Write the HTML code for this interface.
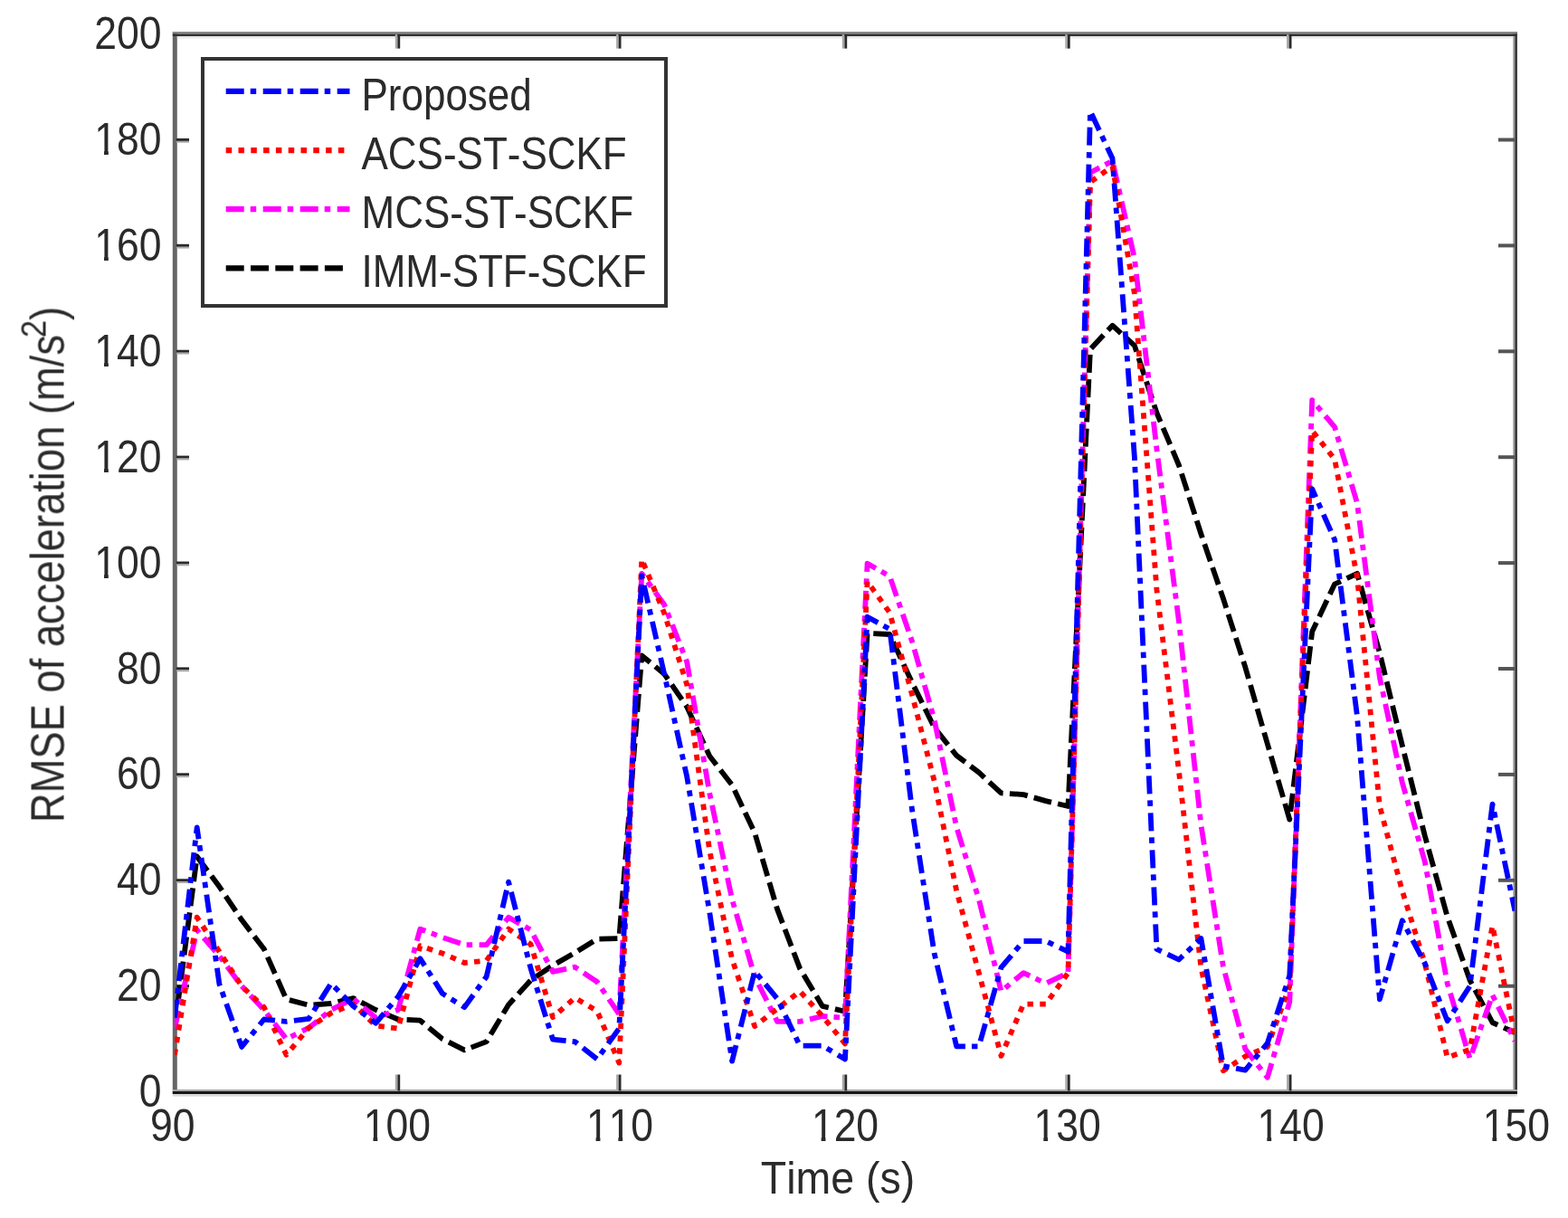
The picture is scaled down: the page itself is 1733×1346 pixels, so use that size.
<!DOCTYPE html>
<html><head><meta charset="utf-8"><title>RMSE of acceleration</title>
<style>html,body{margin:0;padding:0;background:#fff;} svg{display:block;}
text{font-family:"Liberation Sans", sans-serif; fill:#2a2a2a; font-kerning:none;}</style></head>
<body><svg width="1733" height="1346" viewBox="0 0 1733 1346">
<defs><clipPath id="clip"><rect x="193" y="38" width="1481" height="1168"/></clipPath>
<filter id="soft" x="0" y="0" width="1733" height="1346" filterUnits="userSpaceOnUse"><feGaussianBlur stdDeviation="0.7"/></filter></defs>
<rect width="1733" height="1346" fill="#fff"/>
<g filter="url(#soft)">
<rect x="190.8" y="35" width="5" height="1174" fill="#666"/>
<rect x="1672.3" y="35" width="2.2" height="1174" fill="#999"/>
<rect x="1674.3" y="35" width="2.6" height="1174" fill="#333"/>
<rect x="190.8" y="35" width="1486" height="2.5" fill="#888"/>
<rect x="190.8" y="37.4" width="1486" height="2.6" fill="#333"/>
<rect x="195.8" y="40" width="1476" height="2.5" fill="#e8e8e8"/>
<rect x="190.8" y="1204" width="1486" height="2" fill="#a5a5a5"/>
<rect x="190.8" y="1206" width="1486" height="3" fill="#161616"/>
<rect x="190.8" y="1209" width="1486" height="2.6" fill="#d8d8d8"/>
<rect x="436.8" y="1187.5" width="2.6" height="18" fill="#a8a8a8"/>
<rect x="439.4" y="1187.5" width="2.8" height="18" fill="#2a2a2a"/>
<rect x="436.8" y="38" width="2.6" height="15.6" fill="#a8a8a8"/>
<rect x="439.4" y="38" width="2.8" height="15.6" fill="#2a2a2a"/>
<rect x="681.1" y="1187.5" width="2.6" height="18" fill="#a8a8a8"/>
<rect x="683.7" y="1187.5" width="2.8" height="18" fill="#2a2a2a"/>
<rect x="681.1" y="38" width="2.6" height="15.6" fill="#a8a8a8"/>
<rect x="683.7" y="38" width="2.8" height="15.6" fill="#2a2a2a"/>
<rect x="930.8" y="1187.5" width="2.6" height="18" fill="#a8a8a8"/>
<rect x="933.4" y="1187.5" width="2.8" height="18" fill="#2a2a2a"/>
<rect x="930.8" y="38" width="2.6" height="15.6" fill="#a8a8a8"/>
<rect x="933.4" y="38" width="2.8" height="15.6" fill="#2a2a2a"/>
<rect x="1177.3" y="1187.5" width="2.6" height="18" fill="#a8a8a8"/>
<rect x="1179.9" y="1187.5" width="2.8" height="18" fill="#2a2a2a"/>
<rect x="1177.3" y="38" width="2.6" height="15.6" fill="#a8a8a8"/>
<rect x="1179.9" y="38" width="2.8" height="15.6" fill="#2a2a2a"/>
<rect x="1422.1" y="1187.5" width="2.6" height="18" fill="#a8a8a8"/>
<rect x="1424.7" y="1187.5" width="2.8" height="18" fill="#2a2a2a"/>
<rect x="1422.1" y="38" width="2.6" height="15.6" fill="#a8a8a8"/>
<rect x="1424.7" y="38" width="2.8" height="15.6" fill="#2a2a2a"/>
<rect x="195" y="1088.1" width="14" height="3" fill="#2a2a2a"/>
<rect x="195" y="1091.1" width="14" height="1.8" fill="#a8a8a8"/>
<rect x="1656" y="1087.7" width="18" height="4" fill="#555"/>
<rect x="195" y="971.2" width="14" height="3" fill="#2a2a2a"/>
<rect x="195" y="974.2" width="14" height="1.8" fill="#a8a8a8"/>
<rect x="1656" y="970.8" width="18" height="4" fill="#555"/>
<rect x="195" y="854.3" width="14" height="3" fill="#2a2a2a"/>
<rect x="195" y="857.3" width="14" height="1.8" fill="#a8a8a8"/>
<rect x="1656" y="853.9" width="18" height="4" fill="#555"/>
<rect x="195" y="737.4" width="14" height="3" fill="#2a2a2a"/>
<rect x="195" y="740.4" width="14" height="1.8" fill="#a8a8a8"/>
<rect x="1656" y="737.0" width="18" height="4" fill="#555"/>
<rect x="195" y="620.5" width="14" height="3" fill="#2a2a2a"/>
<rect x="195" y="623.5" width="14" height="1.8" fill="#a8a8a8"/>
<rect x="1656" y="620.1" width="18" height="4" fill="#555"/>
<rect x="195" y="503.6" width="14" height="3" fill="#2a2a2a"/>
<rect x="195" y="506.6" width="14" height="1.8" fill="#a8a8a8"/>
<rect x="1656" y="503.2" width="18" height="4" fill="#555"/>
<rect x="195" y="386.7" width="14" height="3" fill="#2a2a2a"/>
<rect x="195" y="389.7" width="14" height="1.8" fill="#a8a8a8"/>
<rect x="1656" y="386.3" width="18" height="4" fill="#555"/>
<rect x="195" y="269.8" width="14" height="3" fill="#2a2a2a"/>
<rect x="195" y="272.8" width="14" height="1.8" fill="#a8a8a8"/>
<rect x="1656" y="269.4" width="18" height="4" fill="#555"/>
<rect x="195" y="152.9" width="14" height="3" fill="#2a2a2a"/>
<rect x="195" y="155.9" width="14" height="1.8" fill="#a8a8a8"/>
<rect x="1656" y="152.5" width="18" height="4" fill="#555"/>
<text transform="translate(178.5,1223.1) scale(0.89,1)" text-anchor="end" font-size="50" >0</text>
<text transform="translate(178.5,1106.2) scale(0.89,1)" text-anchor="end" font-size="50" >20</text>
<text transform="translate(178.5,989.3) scale(0.89,1)" text-anchor="end" font-size="50" >40</text>
<text transform="translate(178.5,872.4) scale(0.89,1)" text-anchor="end" font-size="50" >60</text>
<text transform="translate(178.5,755.5) scale(0.89,1)" text-anchor="end" font-size="50" >80</text>
<text transform="translate(178.5,638.6) scale(0.89,1)" text-anchor="end" font-size="50" >100</text>
<text transform="translate(178.5,521.7) scale(0.89,1)" text-anchor="end" font-size="50" >120</text>
<text transform="translate(178.5,404.8) scale(0.89,1)" text-anchor="end" font-size="50" >140</text>
<text transform="translate(178.5,287.9) scale(0.89,1)" text-anchor="end" font-size="50" >160</text>
<text transform="translate(178.5,171.0) scale(0.89,1)" text-anchor="end" font-size="50" >180</text>
<text transform="translate(178.5,54.1) scale(0.89,1)" text-anchor="end" font-size="50" >200</text>
<text transform="translate(190.8,1261) scale(0.89,1)" text-anchor="middle" font-size="50" >90</text>
<text transform="translate(438.8,1261) scale(0.89,1)" text-anchor="middle" font-size="50" >100</text>
<text transform="translate(685.0,1261) scale(0.89,1)" text-anchor="middle" font-size="50" >110</text>
<text transform="translate(934.0,1261) scale(0.89,1)" text-anchor="middle" font-size="50" >120</text>
<text transform="translate(1179.7,1261) scale(0.89,1)" text-anchor="middle" font-size="50" >130</text>
<text transform="translate(1426.7,1261) scale(0.89,1)" text-anchor="middle" font-size="50" >140</text>
<text transform="translate(1675.8,1261) scale(0.89,1)" text-anchor="middle" font-size="50" >150</text>
<rect x="106.31" y="633.99" width="8.68" height="6.31" fill="#fff"/>
<rect x="119.83" y="633.99" width="8.78" height="6.31" fill="#fff"/>
<rect x="106.31" y="517.09" width="8.68" height="6.31" fill="#fff"/>
<rect x="119.83" y="517.09" width="8.78" height="6.31" fill="#fff"/>
<rect x="106.31" y="400.19" width="8.68" height="6.31" fill="#fff"/>
<rect x="119.83" y="400.19" width="8.78" height="6.31" fill="#fff"/>
<rect x="106.31" y="283.29" width="8.68" height="6.31" fill="#fff"/>
<rect x="119.83" y="283.29" width="8.78" height="6.31" fill="#fff"/>
<rect x="106.31" y="166.39" width="8.68" height="6.31" fill="#fff"/>
<rect x="119.83" y="166.39" width="8.78" height="6.31" fill="#fff"/>
<rect x="403.77" y="1256.39" width="8.68" height="6.31" fill="#fff"/>
<rect x="417.28" y="1256.39" width="8.78" height="6.31" fill="#fff"/>
<rect x="649.92" y="1256.39" width="8.68" height="6.31" fill="#fff"/>
<rect x="663.43" y="1256.39" width="8.78" height="6.31" fill="#fff"/>
<rect x="674.66" y="1256.39" width="8.68" height="6.31" fill="#fff"/>
<rect x="688.18" y="1256.39" width="8.78" height="6.31" fill="#fff"/>
<rect x="898.97" y="1256.39" width="8.68" height="6.31" fill="#fff"/>
<rect x="912.48" y="1256.39" width="8.78" height="6.31" fill="#fff"/>
<rect x="1144.62" y="1256.39" width="8.68" height="6.31" fill="#fff"/>
<rect x="1158.13" y="1256.39" width="8.78" height="6.31" fill="#fff"/>
<rect x="1391.67" y="1256.39" width="8.68" height="6.31" fill="#fff"/>
<rect x="1405.18" y="1256.39" width="8.78" height="6.31" fill="#fff"/>
<rect x="1640.72" y="1256.39" width="8.68" height="6.31" fill="#fff"/>
<rect x="1654.23" y="1256.39" width="8.78" height="6.31" fill="#fff"/>
<g fill="none" stroke-width="5.8" stroke-linejoin="round" clip-path="url(#clip)">
<path d="M193.0,1136.5 L217.7,946.5 L242.4,979.8 L267.1,1016.6 L291.8,1048.8 L316.5,1104.3 L341.2,1110.7 L365.9,1109.0 L390.6,1103.1 L415.3,1116.0 L440.0,1126.5 L464.4,1127.7 L488.9,1148.1 L513.3,1160.4 L537.7,1151.1 L562.1,1110.2 L586.6,1083.3 L611.0,1066.9 L635.4,1052.9 L659.9,1037.7 L684.3,1037.1 L709.3,724.4 L734.2,744.8 L759.2,781.1 L784.2,835.4 L809.1,867.6 L834.1,920.2 L859.1,1004.9 L884.1,1070.4 L909.0,1111.9 L934.0,1117.8 L958.6,699.8 L983.3,701.0 L1008.0,754.2 L1032.6,803.9 L1057.2,834.9 L1081.9,853.6 L1106.5,876.4 L1131.2,878.1 L1155.8,885.1 L1180.5,891.0 L1205.0,386.0 L1229.5,359.7 L1253.9,381.9 L1278.4,456.1 L1302.9,514.0 L1327.4,590.0 L1351.9,661.3 L1376.3,737.2 L1400.8,822.0 L1425.3,905.6 L1450.2,698.1 L1475.1,645.5 L1500.0,633.8 L1524.9,721.5 L1549.8,823.8 L1574.8,923.7 L1599.7,1013.1 L1624.6,1083.3 L1649.5,1130.0 L1674.4,1141.1" stroke="#000" stroke-dasharray="20 7.3"/>
<path d="M193.0,1136.5 L217.7,1027.7 L242.4,1056.4 L267.1,1089.7 L291.8,1116.0 L316.5,1148.1 L341.2,1135.9 L365.9,1116.0 L390.6,1103.7 L415.3,1124.8 L440.0,1116.0 L464.4,1026.6 L488.9,1035.9 L513.3,1044.1 L537.7,1044.1 L562.1,1013.7 L586.6,1027.7 L611.0,1073.9 L635.4,1068.7 L659.9,1085.0 L684.3,1120.7 L709.3,633.8 L734.2,668.3 L759.2,731.4 L784.2,876.4 L809.1,993.8 L834.1,1079.2 L859.1,1128.9 L884.1,1128.9 L909.0,1123.0 L934.0,1124.8 L958.6,622.7 L983.3,636.7 L1008.0,708.6 L1032.6,795.1 L1057.2,914.3 L1081.9,993.8 L1106.5,1095.5 L1131.2,1075.1 L1155.8,1086.8 L1180.5,1075.1 L1205.0,190.7 L1229.5,177.9 L1253.9,285.4 L1278.4,495.8 L1302.9,686.4 L1327.4,911.4 L1351.9,1068.1 L1376.3,1159.3 L1400.8,1190.8 L1425.3,1107.2 L1450.2,442.1 L1475.1,471.9 L1500.0,556.1 L1524.9,748.9 L1549.8,864.7 L1574.8,952.3 L1599.7,1086.8 L1624.6,1169.8 L1649.5,1099.6 L1674.4,1150.5" stroke="#f0f" stroke-dasharray="20 7 6.5 7.5"/>
<path d="M193.0,1165.7 L217.7,1013.7 L242.4,1051.7 L267.1,1089.7 L291.8,1113.1 L316.5,1165.7 L341.2,1135.9 L365.9,1119.5 L390.6,1109.6 L415.3,1133.5 L440.0,1136.5 L464.4,1045.3 L488.9,1053.5 L513.3,1064.0 L537.7,1061.6 L562.1,1026.6 L586.6,1043.5 L611.0,1124.2 L635.4,1102.6 L659.9,1117.2 L684.3,1174.5 L709.3,618.0 L734.2,677.6 L759.2,756.5 L784.2,940.1 L809.1,1059.9 L834.1,1134.1 L859.1,1114.8 L884.1,1095.5 L909.0,1123.0 L934.0,1153.4 L958.6,642.6 L983.3,677.0 L1008.0,767.6 L1032.6,862.9 L1057.2,984.5 L1081.9,1075.1 L1106.5,1166.9 L1131.2,1109.6 L1155.8,1109.6 L1180.5,1075.1 L1205.0,201.3 L1229.5,183.7 L1253.9,324.6 L1278.4,651.3 L1302.9,851.8 L1327.4,1069.2 L1351.9,1183.2 L1376.3,1167.4 L1400.8,1156.9 L1425.3,1089.7 L1450.2,476.0 L1475.1,507.5 L1500.0,637.9 L1524.9,891.0 L1549.8,984.5 L1574.8,1064.6 L1599.7,1168.6 L1624.6,1159.8 L1649.5,1023.1 L1674.4,1144.1" stroke="#f00" stroke-dasharray="6.5 7.3"/>
<path d="M193.0,1124.8 L217.7,914.3 L242.4,1087.4 L267.1,1156.9 L291.8,1126.5 L316.5,1128.9 L341.2,1125.9 L365.9,1086.8 L390.6,1111.9 L415.3,1130.6 L440.0,1101.4 L464.4,1059.3 L488.9,1097.9 L513.3,1113.1 L537.7,1079.2 L562.1,974.6 L586.6,1070.4 L611.0,1148.7 L635.4,1151.1 L659.9,1170.4 L684.3,1136.5 L709.3,636.1 L734.2,744.8 L759.2,858.2 L784.2,1007.9 L809.1,1172.7 L834.1,1073.3 L859.1,1103.7 L884.1,1155.7 L909.0,1155.7 L934.0,1170.4 L958.6,681.7 L983.3,695.2 L1008.0,894.5 L1032.6,1053.5 L1057.2,1156.3 L1081.9,1156.3 L1106.5,1069.2 L1131.2,1040.0 L1155.8,1040.0 L1180.5,1051.7 L1205.0,122.9 L1229.5,175.0 L1253.9,505.2 L1278.4,1048.8 L1302.9,1060.5 L1327.4,1037.1 L1351.9,1178.0 L1376.3,1182.6 L1400.8,1152.8 L1425.3,1078.0 L1450.2,540.3 L1475.1,596.4 L1500.0,791.6 L1524.9,1104.3 L1549.8,1017.2 L1574.8,1064.6 L1599.7,1128.3 L1624.6,1089.7 L1649.5,888.6 L1674.4,1006.7" stroke="#00f" stroke-dasharray="20 7 6.5 7.5"/>
</g>
<rect x="224" y="65" width="512" height="273" fill="#fff" stroke="#333" stroke-width="4"/>
<line x1="249.7" y1="100.9" x2="386.5" y2="100.9" stroke="#00f" stroke-width="6.2" stroke-dasharray="20 7 6.5 7.5"/>
<text transform="translate(399.5,121.9) scale(0.88,1)" text-anchor="start" font-size="50" >Proposed</text>
<line x1="249.7" y1="166.2" x2="380.5" y2="166.2" stroke="#f00" stroke-width="6.2" stroke-dasharray="6.5 7.3"/>
<text transform="translate(399.5,187.2) scale(0.88,1)" text-anchor="start" font-size="50" >ACS-ST-SCKF</text>
<line x1="249.7" y1="231.2" x2="386.5" y2="231.2" stroke="#f0f" stroke-width="6.2" stroke-dasharray="20 7 6.5 7.5"/>
<text transform="translate(399.5,252.2) scale(0.88,1)" text-anchor="start" font-size="50" >MCS-ST-SCKF</text>
<line x1="249.7" y1="296.3" x2="380.5" y2="296.3" stroke="#000" stroke-width="6.2" stroke-dasharray="20 7.3"/>
<text transform="translate(399.5,317.3) scale(0.88,1)" text-anchor="start" font-size="50" >IMM-STF-SCKF</text>
<text transform="translate(926,1319) scale(0.93,1)" text-anchor="middle" font-size="50" >Time (s)</text>
<text transform="translate(70.5,624) rotate(-90) scale(0.889,1)" text-anchor="middle" font-size="51">RMSE of acceleration (m/s<tspan font-size="39" dx="-3.5" dy="-20">2</tspan><tspan dy="20">)</tspan></text>
</g>
</svg></body></html>
